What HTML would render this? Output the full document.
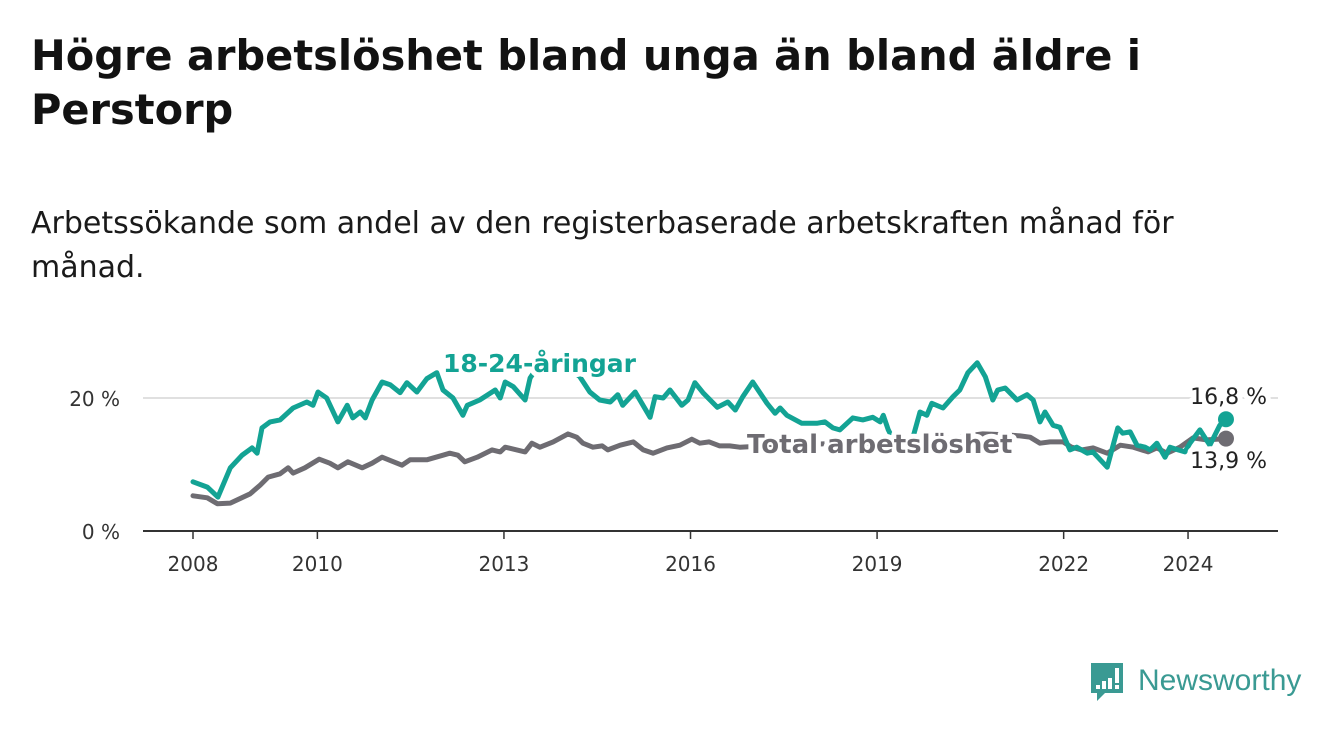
<!DOCTYPE html>
<html><head><meta charset="utf-8">
<style>
html,body{margin:0;padding:0;background:#fff;}
body{width:1340px;height:734px;position:relative;overflow:hidden;font-family:"DejaVu Sans",sans-serif;}
#title{position:absolute;left:31px;top:29px;width:1300px;font-weight:bold;font-size:41.5px;line-height:54px;color:#121212;margin:0;font-family:"DejaVu Sans",sans-serif;}
#subtitle{position:absolute;left:31px;top:202px;width:1300px;font-size:30px;line-height:44px;color:#1a1a1a;margin:0;font-family:"DejaVu Sans",sans-serif;}
svg{position:absolute;left:0;top:0;}
</style></head><body>
<h1 id="title">Högre arbetslöshet bland unga än bland äldre i<br>Perstorp</h1>
<p id="subtitle">Arbetssökande som andel av den registerbaserade arbetskraften månad för<br>månad.</p>
<svg id="chart" width="1340" height="734"></svg>
<script>
const youthYears=[2008.0,2008.23,2008.4,2008.6,2008.79,2008.95,2009.03,2009.11,2009.24,2009.4,2009.61,2009.83,2009.93,2010.01,2010.15,2010.33,2010.48,2010.57,2010.69,2010.77,2010.88,2011.04,2011.17,2011.33,2011.44,2011.6,2011.76,2011.92,2012.02,2012.18,2012.34,2012.41,2012.61,2012.86,2012.94,2013.02,2013.15,2013.34,2013.42,2013.6,2013.9,2014.22,2014.38,2014.54,2014.71,2014.83,2014.91,2015.11,2015.35,2015.43,2015.56,2015.67,2015.86,2015.96,2016.07,2016.2,2016.43,2016.6,2016.72,2016.84,2017.0,2017.23,2017.36,2017.44,2017.55,2017.79,2018.03,2018.16,2018.29,2018.4,2018.61,2018.77,2018.93,2019.05,2019.1,2019.18,2019.33,2019.56,2019.69,2019.8,2019.88,2020.06,2020.22,2020.33,2020.46,2020.61,2020.74,2020.86,2020.94,2021.06,2021.25,2021.41,2021.51,2021.62,2021.7,2021.83,2021.94,2022.1,2022.21,2022.38,2022.47,2022.7,2022.87,2022.95,2023.07,2023.18,2023.31,2023.39,2023.5,2023.63,2023.71,2023.84,2023.95,2024.03,2024.19,2024.35,2024.51,2024.61];
const youthValues=[7.4,6.6,5.1,9.5,11.4,12.5,11.7,15.5,16.4,16.7,18.5,19.4,18.9,20.9,20,16.4,18.9,17,17.9,17,19.7,22.4,22,20.8,22.3,20.9,22.9,23.8,21.2,20,17.4,18.9,19.7,21.2,20,22.4,21.7,19.7,23,25.5,25.5,23.2,20.9,19.7,19.4,20.5,18.9,20.9,17.1,20.2,20,21.2,18.9,19.7,22.3,20.8,18.6,19.4,18.2,20.2,22.4,19.2,17.7,18.5,17.4,16.2,16.2,16.4,15.5,15.2,17,16.7,17.1,16.4,17.4,15.2,12.5,13.5,17.9,17.4,19.2,18.5,20.2,21.2,23.8,25.3,23.2,19.7,21.2,21.5,19.7,20.5,19.7,16.4,17.9,15.9,15.6,12.2,12.6,11.7,11.9,9.6,15.5,14.7,14.9,12.9,12.6,12.2,13.2,11.1,12.6,12.2,11.9,13.2,15.2,12.9,15.9,16.8];
const totalYears=[2008.0,2008.23,2008.39,2008.6,2008.92,2009.08,2009.21,2009.4,2009.53,2009.61,2009.8,2010.03,2010.2,2010.33,2010.49,2010.72,2010.88,2011.04,2011.2,2011.36,2011.49,2011.76,2012.02,2012.13,2012.26,2012.37,2012.57,2012.81,2012.94,2013.02,2013.34,2013.45,2013.58,2013.79,2014.03,2014.17,2014.27,2014.43,2014.58,2014.67,2014.87,2015.08,2015.24,2015.4,2015.62,2015.83,2016.02,2016.15,2016.3,2016.47,2016.63,2016.79,2017.2,2017.8,2018.4,2019.0,2019.6,2020.2,2020.7,2021.0,2021.3,2021.46,2021.62,2021.78,2021.99,2022.13,2022.29,2022.47,2022.7,2022.91,2023.12,2023.36,2023.5,2023.66,2023.87,2024.08,2024.3,2024.61];
const totalValues=[5.3,5.0,4.1,4.2,5.6,6.9,8.1,8.6,9.5,8.7,9.5,10.8,10.2,9.5,10.4,9.5,10.2,11.1,10.5,9.9,10.7,10.7,11.4,11.7,11.4,10.4,11.1,12.2,11.9,12.6,11.9,13.2,12.6,13.4,14.6,14.1,13.2,12.6,12.8,12.2,12.9,13.4,12.2,11.7,12.5,12.9,13.8,13.2,13.4,12.8,12.8,12.6,12.8,13,13.2,13.3,13.6,14,14.6,14.5,14.3,14.1,13.2,13.4,13.4,12.6,12.2,12.5,11.7,12.9,12.6,11.9,12.5,11.7,12.6,14.0,13.7,13.9];
const xTicks=[2008,2010,2013,2016,2019,2022,2024];
const yTicks=[0,20];
const yTickLabels=["0 %","20 %"];

const NS="http://www.w3.org/2000/svg";
const svg=document.getElementById('chart');
const FONT='DejaVu Sans, sans-serif';
const X=y=>193+(y-2008)*62.19;
const Y=v=>531-v*6.65;
function mk(t,a,parent){const e=document.createElementNS(NS,t);for(const k in a)e.setAttribute(k,a[k]);(parent||svg).appendChild(e);return e;}

yTicks.forEach((v,i)=>{
  if(v>0){const g=mk('line',{x1:143,x2:1278,y1:Y(v),y2:Y(v),stroke:'#d6d6d6','stroke-width':1.5});
  
  }
  const t=mk('text',{x:120,y:Y(v)+8,'text-anchor':'end','font-size':20,fill:'#333','font-family':FONT});
  t.textContent=yTickLabels[i];
  
  
});
const ax=mk('line',{x1:143,x2:1278,y1:531,y2:531,stroke:'#333','stroke-width':2});


xTicks.forEach(yr=>{
  const tk=mk('line',{x1:X(yr),x2:X(yr),y1:531,y2:539,stroke:'#333','stroke-width':1.5});
  
  
  const t=mk('text',{x:X(yr),y:571,'text-anchor':'middle','font-size':20,fill:'#333','font-family':FONT});
  t.textContent=yr;
  
  
});
function line(xs,vs,col,name){
  const d=xs.map((x,i)=>(i?'L':'M')+X(x).toFixed(1)+','+Y(vs[i]).toFixed(1)).join('');
  const p=mk('path',{d:d,fill:'none',stroke:col,'stroke-width':5,'stroke-linejoin':'round','stroke-linecap':'round'});
  
  
  const c=mk('circle',{cx:X(xs[xs.length-1]),cy:Y(vs[vs.length-1]),r:8,fill:col});
  
  
}
line(totalYears,totalValues,'#6e6c72','total-line');
line(youthYears,youthValues,'#13a394','youth-line');
function label(txt,x,y,col,size,bold,name,anchor){
  const t=mk('text',{x:x,y:y,fill:col,'font-size':size,'font-weight':bold?'bold':'normal','font-family':FONT,stroke:'#fff','stroke-width':10,'paint-order':'stroke','stroke-linejoin':'round','text-anchor':anchor||'start'});
  t.textContent=txt;
  
  
}
label('18-24-åringar',443,372,'#13a394',25,true,'youth-series-label');
label('Total arbetslöshet',747,453,'#6e6c72',26,true,'total-series-label');
label('16,8 %',1267,404,'#222',22,false,'youth-end-value','end');
label('13,9 %',1267,468,'#222',22,false,'total-end-value','end');
const lg=mk('g',{});


mk('path',{d:'M1091,663 h32 v30 h-18 l-8,8 v-8 h-6 z',fill:'#3a9a93'},lg);
[[1096,685,4],[1102,681,8],[1108,678,11]].forEach(b=>mk('rect',{x:b[0],y:b[1],width:4,height:b[2],fill:'#fff'},lg));
mk('rect',{x:1115,y:668,width:4,height:15,fill:'#fff'},lg);
mk('rect',{x:1115,y:685,width:4,height:4,fill:'#fff'},lg);
const lt=mk('text',{x:1138,y:690,fill:'#3a9a93','font-size':30,'font-family':'Liberation Sans, sans-serif'},lg);
lt.textContent='Newsworthy';
</script>
</body></html>
